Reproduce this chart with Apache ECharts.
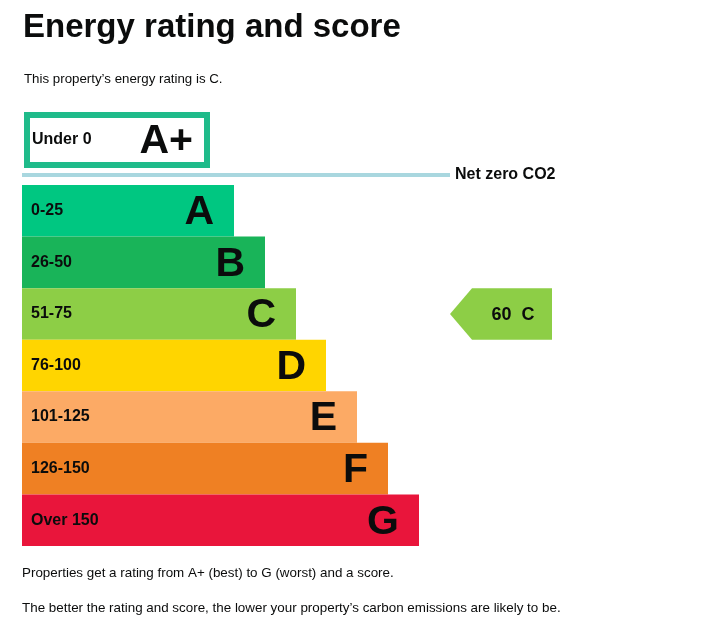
<!DOCTYPE html>
<html>
<head>
<meta charset="utf-8">
<script src="https://cdn.jsdelivr.net/npm/echarts@6/dist/echarts.min.js"></script>
<style>
html,body{margin:0;padding:0;background:#fff;}
#main{width:712px;height:635px;}
</style>
</head>
<body>
<div id="main"></div>
<script>
// ---- Data ----
var ratings = ['A', 'B', 'C', 'D', 'E', 'F', 'G'];
var ranges = ['0-25', '26-50', '51-75', '76-100', '101-125', '126-150', 'Over 150'];
var barLengths = [212, 243, 274, 304, 335, 366, 397];
var bandColors = ['#00c781', '#19b459', '#8dce46', '#ffd500', '#fcaa65', '#ef8023', '#e9153b'];
var topRating = 'A+';
var topRange = 'Under 0';
var topLength = 186;
var currentRating = 'C';
var currentScore = 60;

var FONT = "'Liberation Sans', Arial, Helvetica, sans-serif";
var INK = '#0b0c0c';

var chart = echarts.init(document.getElementById('main'), null, {renderer: 'canvas'});

var arrowLeft = 428; // x-axis units (1 unit = 1px)
var arrowWidth = 102;
var arrowTip = 22;

var option = {
  animation: false,
  backgroundColor: '#ffffff',
  grid: [
    {left: 22, top: 185, width: 690, height: 361},
    {left: 24, top: 112, width: 688, height: 56}
  ],
  xAxis: [
    {gridIndex: 0, type: 'value', min: 0, max: 690, show: false},
    {gridIndex: 1, type: 'value', min: 0, max: 688, show: false}
  ],
  yAxis: [
    {gridIndex: 0, type: 'category', data: ratings, inverse: true, show: false},
    {gridIndex: 1, type: 'category', data: [topRating], inverse: true, show: false}
  ],
  graphic: [
    {type: 'text', left: 23, top: 11, style: {text: 'Energy rating and score', font: 'bold 33px ' + FONT, fill: INK}},
    {type: 'text', left: 24, top: 73, style: {text: 'This property\u2019s energy rating is C.', font: '13.3px ' + FONT, fill: INK}},
    {type: 'rect', shape: {x: 22, y: 173, width: 428, height: 4}, style: {fill: '#a9d7df'}},
    {type: 'text', left: 455, top: 167, style: {text: 'Net zero CO2', font: 'bold 16px ' + FONT, fill: INK}},
    {type: 'text', left: 22, top: 567, style: {text: 'Properties get a rating from A+ (best) to G (worst) and a score.', font: '13.4px ' + FONT, fill: INK}},
    {type: 'text', left: 22, top: 602, style: {text: 'The better the rating and score, the lower your property\u2019s carbon emissions are likely to be.', font: '13.4px ' + FONT, fill: INK}}
  ],
  series: [
    {
      type: 'bar', xAxisIndex: 0, yAxisIndex: 0,
      barWidth: '100%', barGap: '-100%',
      data: barLengths.map(function (v, i) {
        return {value: v, itemStyle: {color: bandColors[i]}};
      }),
      label: {
        show: true, position: 'insideLeft', distance: 9,
        formatter: function (p) { return ranges[p.dataIndex]; },
        fontFamily: FONT, fontWeight: 'bold', fontSize: 16, color: INK
      },
      silent: true
    },
    {
      type: 'bar', xAxisIndex: 0, yAxisIndex: 0,
      barWidth: '100%', barGap: '-100%',
      data: barLengths,
      itemStyle: {color: 'rgba(0,0,0,0)'},
      label: {
        show: true, position: 'insideRight', distance: 20,
        formatter: function (p) { return ratings[p.dataIndex]; },
        fontFamily: FONT, fontWeight: 'bold', fontSize: 41, color: INK,
        offset: [0, 2]
      },
      silent: true
    },
    {
      type: 'bar', xAxisIndex: 1, yAxisIndex: 1,
      barWidth: '100%', barGap: '-100%',
      data: [topLength],
      itemStyle: {color: '#ffffff', borderColor: '#1fbb8a', borderWidth: 6},
      label: {
        show: true, position: 'insideLeft', distance: 8,
        formatter: topRange,
        fontFamily: FONT, fontWeight: 'bold', fontSize: 16, color: INK
      },
      silent: true
    },
    {
      type: 'bar', xAxisIndex: 1, yAxisIndex: 1,
      barWidth: '100%', barGap: '-100%',
      data: [topLength],
      itemStyle: {color: 'rgba(0,0,0,0)'},
      label: {
        show: true, position: 'insideRight', distance: 17,
        formatter: topRating,
        fontFamily: FONT, fontWeight: 'bold', fontSize: 41, color: INK,
        offset: [0, 2]
      },
      silent: true
    },
    {
      type: 'custom', xAxisIndex: 0, yAxisIndex: 0,
      encode: {x: 1, y: 0},
      data: [[currentRating, currentScore]],
      renderItem: function (params, api) {
        var cat = api.value(0);
        var score = api.value(1);
        var c = api.coord([arrowLeft, cat]);
        var h = api.size([0, 1])[1];
        var x0 = c[0], yc = c[1];
        var y0 = yc - h / 2, y1 = yc + h / 2;
        var x1 = x0 + arrowWidth;
        var rating = ratings[cat];
        return {
          type: 'group',
          children: [
            {type: 'polygon', shape: {points: [[x0, yc], [x0 + arrowTip, y0], [x1, y0], [x1, y1], [x0 + arrowTip, y1]]},
              style: {fill: bandColors[cat]}},
            {type: 'text', x: x0 + 63, y: yc + 1, style: {text: score + '  ' + rating, font: 'bold 18px ' + FONT, fill: INK, align: 'center', verticalAlign: 'middle'}}
          ]
        };
      },
      silent: true
    }
  ]
};
chart.setOption(option);
</script>
</body>
</html>
